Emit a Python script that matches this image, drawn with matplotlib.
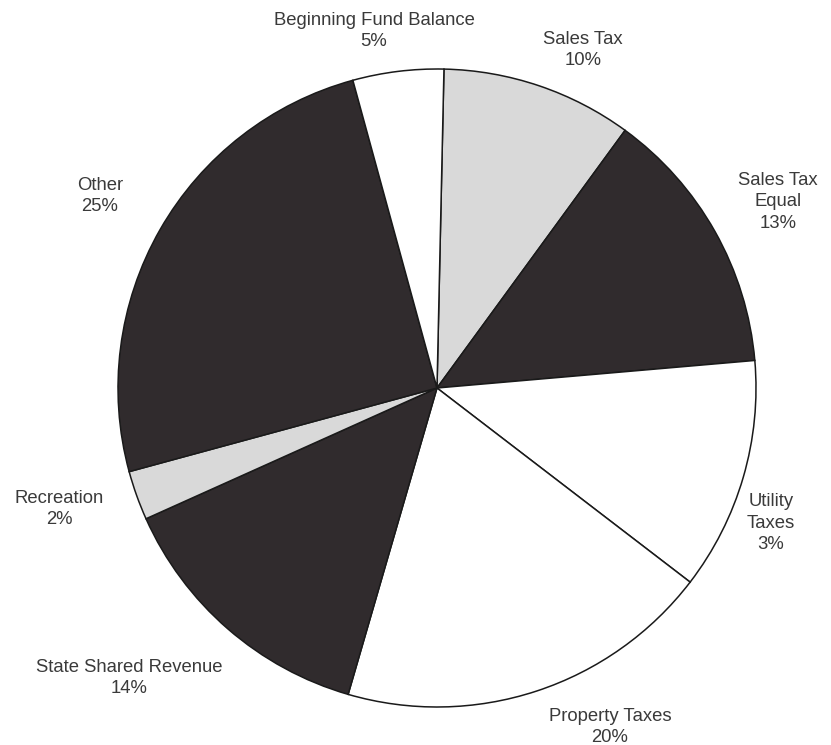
import matplotlib
matplotlib.use("Agg")
import matplotlib.pyplot as plt

# ---- data (slice sizes, labels as printed) ----
categories = ["Sales Tax", "Sales Tax Equal", "Utility Taxes", "Property Taxes",
              "State Shared Revenue", "Recreation", "Other", "Beginning Fund Balance"]
shares = [9.7, 13.6, 11.8, 19.1, 13.8, 2.5, 25.0, 4.6]
label_texts = ["Sales Tax\n10%", "Sales Tax\nEqual\n13%", "Utility\nTaxes\n3%",
               "Property Taxes\n20%", "State Shared Revenue\n14%", "Recreation\n2%",
               "Other\n25%", "Beginning Fund Balance\n5%"]

# ---- styling / layout ----
DARK = "#302b2d"
LIGHT = "#d9d9d9"
WHITE = "#ffffff"
slice_colors = [LIGHT, DARK, WHITE, WHITE, DARK, LIGHT, DARK, WHITE]
label_pos_px = [(583, 50), (778, 202), (771, 523), (610, 727),
                (129, 678), (59, 509), (100, 196), (374, 31)]

W, H = 831, 745
fig = plt.figure(figsize=(W / 100, H / 100), dpi=100)
ax = fig.add_axes([0, 0, 1, 1])

ax.pie(shares, colors=slice_colors, startangle=88.75, counterclock=False,
       center=(437, H - 388), radius=319,
       wedgeprops=dict(edgecolor="#1a1a1a", linewidth=1.1))

ax.set_xlim(0, W)
ax.set_ylim(0, H)
ax.set_aspect("auto")
ax.axis("off")

for txt, (px, py) in zip(label_texts, label_pos_px):
    ax.text(px, H - py, txt, ha="center", va="center", fontsize=13.3,
            family=["Liberation Sans", "DejaVu Sans"], color="#3a3a3a",
            linespacing=1.32)

fig.savefig("out.png", dpi=100, facecolor="white")
